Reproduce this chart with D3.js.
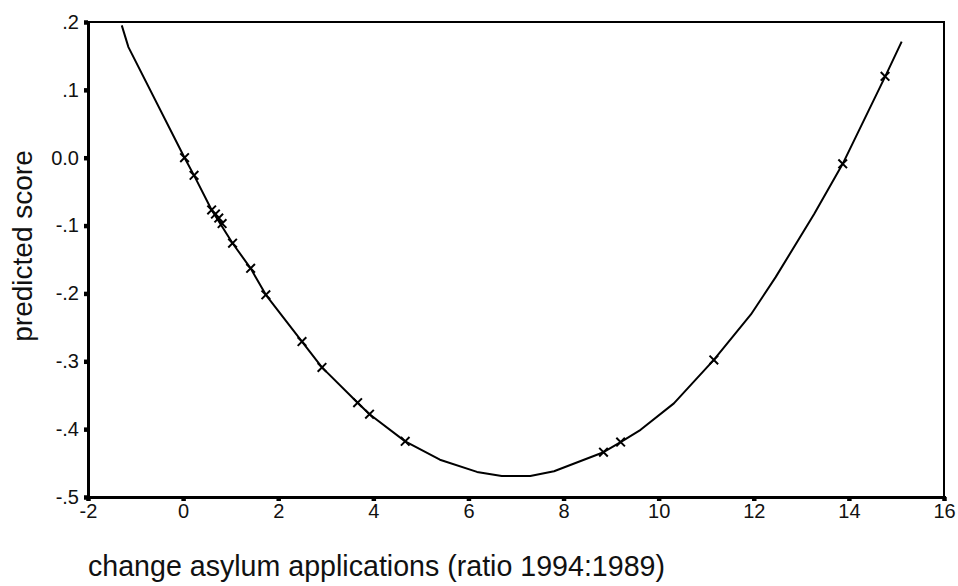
<!DOCTYPE html>
<html>
<head>
<meta charset="utf-8">
<script src="https://cdn.jsdelivr.net/npm/d3@7"></script>
<style>
  html, body { margin: 0; padding: 0; background: #fff; }
  svg { display: block; font-family: "Liberation Sans", Arial, sans-serif; }
</style>
</head>
<body>
<svg id="chart" width="958" height="586"></svg>
<script>
// Fitted curve vertices (ratio, predicted score)
const curveX = [-1.29, -1.15, 0.03, 0.23, 0.6, 1.04, 1.42, 1.74, 2.5, 2.92, 3.67, 3.92, 4.67, 5.4, 6.18, 6.7, 7.3, 7.8, 8.84, 9.2, 9.62, 10.32, 11.16, 11.94, 12.46, 13.27, 13.87, 14.78, 15.11];
const curveY = [0.195, 0.163, 0.0, -0.026, -0.077, -0.126, -0.163, -0.202, -0.271, -0.309, -0.361, -0.378, -0.418, -0.445, -0.463, -0.469, -0.469, -0.462, -0.434, -0.419, -0.401, -0.362, -0.298, -0.231, -0.176, -0.083, -0.009, 0.122, 0.171];

// Observed cases
const caseX = [0.03, 0.23, 0.6, 0.68, 0.75, 0.82, 1.04, 1.42, 1.74, 2.5, 2.92, 3.67, 3.92, 4.67, 8.84, 9.2, 11.16, 13.87, 14.76];
const caseY = [0.0, -0.026, -0.077, -0.083, -0.089, -0.097, -0.126, -0.163, -0.202, -0.271, -0.309, -0.361, -0.378, -0.418, -0.434, -0.419, -0.298, -0.009, 0.12];

// Axis ticks and labels
const xTicks = [-2, 0, 2, 4, 6, 8, 10, 12, 14, 16];
const xTickLabels = ["-2", "0", "2", "4", "6", "8", "10", "12", "14", "16"];
const yTicks = [0.2, 0.1, 0.0, -0.1, -0.2, -0.3, -0.4, -0.5];
const yTickLabels = [".2", ".1", "0.0", "-.1", "-.2", "-.3", "-.4", "-.5"];

const xTitle = "change asylum applications (ratio 1994:1989)";
const yTitle = "predicted score";

const svg = d3.select("#chart");
const plotLeft = 88, plotRight = 944, plotTop = 22, plotBottom = 497;

const x = d3.scaleLinear().domain([-2, 16]).range([plotLeft, plotRight]);
const y = d3.scaleLinear().domain([-0.5, 0.2]).range([plotBottom, plotTop]);

// Plot frame
svg.append("rect")
  .attr("x", plotLeft).attr("y", plotTop)
  .attr("width", plotRight - plotLeft).attr("height", plotBottom - plotTop)
  .attr("fill", "none").attr("stroke", "#000").attr("stroke-width", 2);

// Y axis
const yAxis = svg.append("g")
  .attr("transform", `translate(${plotLeft},0)`)
  .call(d3.axisLeft(y).tickValues(yTicks).tickSize(4).tickPadding(5)
    .tickFormat((d, i) => yTickLabels[i]));
yAxis.select(".domain").attr("stroke", "#000").attr("stroke-width", 3);
yAxis.selectAll(".tick line").attr("stroke", "#000").attr("stroke-width", 4.5);
yAxis.selectAll(".tick text")
  .attr("font-size", 20).attr("fill", "#111")
  .attr("font-family", "Liberation Sans, Arial, sans-serif");

// X axis
const xAxis = svg.append("g")
  .attr("transform", `translate(0,${plotBottom})`)
  .call(d3.axisBottom(x).tickValues(xTicks).tickSize(4).tickPadding(3)
    .tickFormat((d, i) => xTickLabels[i]));
xAxis.select(".domain").attr("stroke", "#000").attr("stroke-width", 3);
xAxis.selectAll(".tick line").attr("stroke", "#000").attr("stroke-width", 4.5);
xAxis.selectAll(".tick text")
  .attr("font-size", 20).attr("fill", "#111")
  .attr("font-family", "Liberation Sans, Arial, sans-serif");

// Fitted curve
const pts = curveX.map((d, i) => [d, curveY[i]]);
svg.append("path")
  .datum(pts)
  .attr("fill", "none")
  .attr("stroke", "#000")
  .attr("stroke-width", 2)
  .attr("stroke-linejoin", "round")
  .attr("d", d3.line().x(d => x(d[0])).y(d => y(d[1])).curve(d3.curveLinear));

// Case markers
const sym = d3.symbol().type(d3.symbolTimes).size(50);
svg.append("g").selectAll("path")
  .data(caseX.map((d, i) => [d, caseY[i]]))
  .join("path")
  .attr("transform", d => `translate(${x(d[0])},${y(d[1])})`)
  .attr("d", sym)
  .attr("fill", "none")
  .attr("stroke", "#000")
  .attr("stroke-width", 2);

// Axis titles
svg.append("text")
  .attr("x", 88).attr("y", 576)
  .attr("font-size", 28.6).attr("fill", "#111")
  .text(xTitle);

svg.append("text")
  .attr("transform", "translate(32,246) rotate(-90)")
  .attr("text-anchor", "middle")
  .attr("font-size", 28).attr("fill", "#111")
  .text(yTitle);
</script>
</body>
</html>
